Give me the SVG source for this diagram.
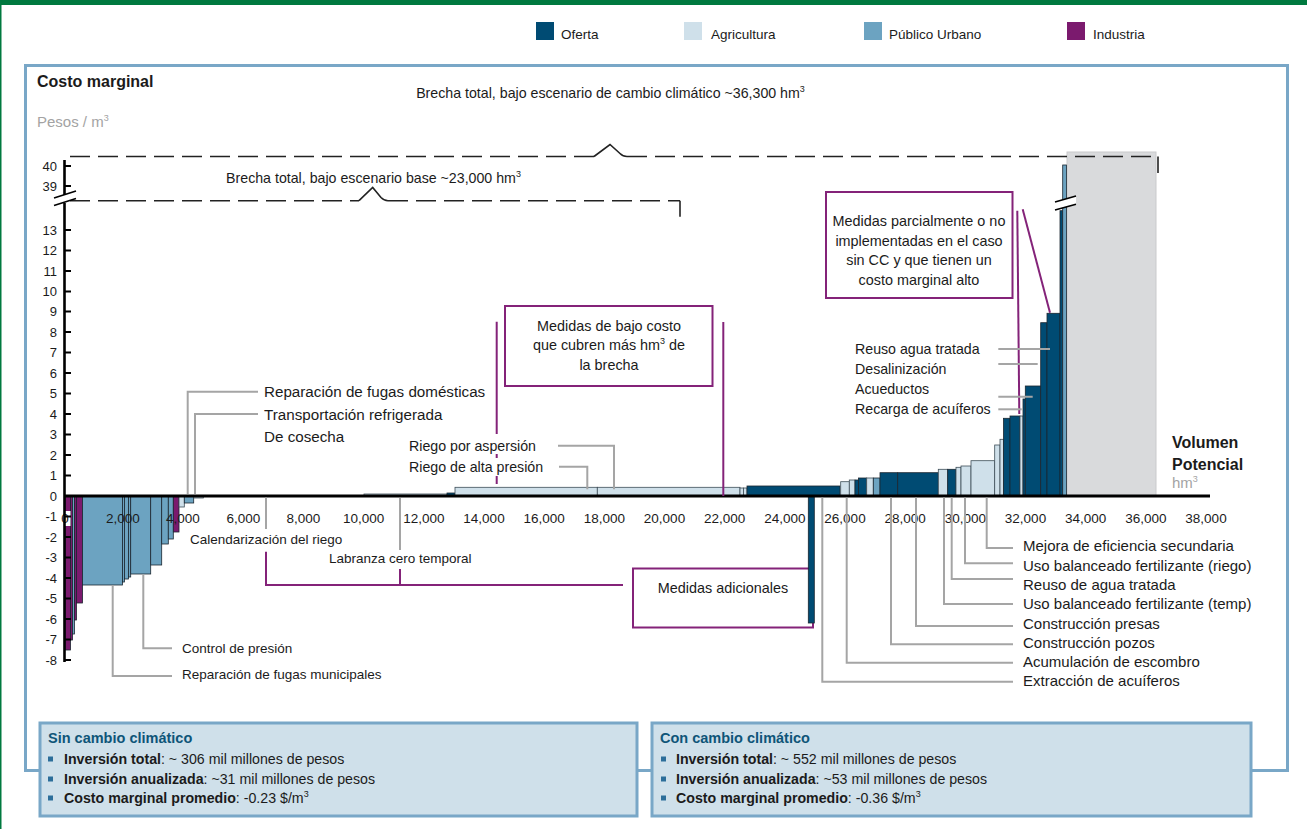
<svg xmlns="http://www.w3.org/2000/svg" width="1307" height="829" viewBox="0 0 1307 829">
<style>
text{font-family:"Liberation Sans",Arial,sans-serif;fill:#1b1b1b}
.lg{font-size:13.5px}
.ax{font-size:13px}
.axr{font-size:13px;text-anchor:end}
.axc{font-size:13.5px;text-anchor:middle}
.lb{font-size:15.2px}
.ls{font-size:13.5px}
.lm{font-size:14.2px}
.lr{font-size:15px}
.an{font-size:14.4px;text-anchor:middle}
.bt{font-size:14.5px;font-weight:bold;fill:#0E5578}
.bx{font-size:14.2px}
.b{font-weight:bold}
.of{fill:#004B73;stroke:#1B2630;stroke-width:.8}
.ag{fill:#CFE0EA;stroke:#3E4E58;stroke-width:.8}
.ur{fill:#6CA3C1;stroke:#1B2630;stroke-width:.8}
.in{fill:#7B1A6E;stroke:#1B2630;stroke-width:.8}
.ld{fill:none;stroke:#A5A5A5;stroke-width:2}
.pl{fill:none;stroke:#842379;stroke-width:2}
.dash{fill:none;stroke:#222;stroke-width:1.6;stroke-dasharray:20 8}
.sol{fill:none;stroke:#222;stroke-width:1.6}
.bul{fill:#2C6E9A}
.box{fill:#CFE0EA;stroke:#79A7C7;stroke-width:3}
</style>

<g id="page">
<rect x="0" y="0" width="1307" height="5" fill="#00793F"/>
<rect x="0" y="0" width="1.5" height="829" fill="#00793F"/>
<rect x="25.5" y="65.5" width="1262" height="705" fill="none" stroke="#79A7C7" stroke-width="3"/>
</g>

<g id="legend">
<g id="leg-oferta"><rect x="536" y="22" width="18" height="18" fill="#004B73"/><text class="lg" x="561" y="39">Oferta</text></g>
<g id="leg-agricultura"><rect x="684" y="22" width="18" height="18" fill="#CFE0EA"/><text class="lg" x="711" y="39">Agricultura</text></g>
<g id="leg-urbano"><rect x="864" y="22" width="18" height="18" fill="#6CA3C1"/><text class="lg" x="889" y="39">Público Urbano</text></g>
<g id="leg-industria"><rect x="1067" y="22" width="18" height="18" fill="#7B1A6E"/><text class="lg" x="1093" y="39">Industria</text></g>
</g>

<g id="titles">
<text x="37" y="87" style="font-size:16px;font-weight:bold">Costo marginal</text>
<text x="37" y="127" style="font-size:15px;fill:#A3A3A3">Pesos / m<tspan font-size="9" dy="-6" style="fill:#A3A3A3">3</tspan></text>
<text x="1172" y="448" style="font-size:16px;font-weight:bold">Volumen</text>
<text x="1172" y="469.5" style="font-size:16px;font-weight:bold">Potencial</text>
<text x="1172" y="488" style="font-size:15px;fill:#A3A3A3">hm<tspan font-size="9" dy="-6" style="fill:#A3A3A3">3</tspan></text>
</g>

<g id="y-labels">
<text class="axr" x="57" y="170.5">40</text>
<text class="axr" x="57" y="190.5">39</text>
<text class="axr" x="57" y="234.5">13</text>
<text class="axr" x="57" y="255">12</text>
<text class="axr" x="57" y="275.5">11</text>
<text class="axr" x="57" y="296">10</text>
<text class="axr" x="57" y="316">9</text>
<text class="axr" x="57" y="336.5">8</text>
<text class="axr" x="57" y="357">7</text>
<text class="axr" x="57" y="377.5">6</text>
<text class="axr" x="57" y="398">5</text>
<text class="axr" x="57" y="418.5">4</text>
<text class="axr" x="57" y="439">3</text>
<text class="axr" x="57" y="459.5">2</text>
<text class="axr" x="57" y="480">1</text>
<text class="axr" x="57" y="500.5">0</text>
<text class="axr" x="57" y="521">-1</text>
<text class="axr" x="57" y="541.5">-2</text>
<text class="axr" x="57" y="562">-3</text>
<text class="axr" x="57" y="582.5">-4</text>
<text class="axr" x="57" y="603">-5</text>
<text class="axr" x="57" y="623.5">-6</text>
<text class="axr" x="57" y="644">-7</text>
<text class="axr" x="57" y="664.5">-8</text>
</g>

<g id="gap-area">
<rect x="1067" y="152" width="89" height="344" fill="#D9DADC" stroke="#C9CACC" stroke-width="1"/>
</g>

<g id="brecha-cc">
<path class="dash" d="M70,156.5 H594"/>
<path class="sol" d="M594,156.5 L610,144.5 L620,153.5 Q623,156.5 627,156.5"/>
<path class="dash" d="M627,156.5 H1158"/>
<path class="sol" d="M1158,156.5 V173"/>
<text class="lm" x="610.5" y="98" text-anchor="middle">Brecha total, bajo escenario de cambio climático ~36,300 hm<tspan font-size="9" dy="-6">3</tspan></text>
</g>

<g id="brecha-base">
<path class="dash" d="M70,200.7 H359"/>
<path class="sol" d="M359,200.7 L372.7,187.5 L381,197.5 Q384,200.7 388,200.7"/>
<path class="dash" d="M388,200.7 H680"/>
<path class="sol" d="M680,200.7 V216.7"/>
<text class="lm" x="373.5" y="183" text-anchor="middle">Brecha total, bajo escenario base ~23,000 hm<tspan font-size="9" dy="-6">3</tspan></text>
</g>

<g id="box-adicionales">
<rect x="633" y="568.5" width="180" height="59" fill="none" stroke="#842379" stroke-width="2"/>
<text class="an" x="723" y="593">Medidas adicionales</text>
</g>

<g id="box-bajo-costo">
<rect x="505" y="306" width="207.5" height="80" fill="none" stroke="#842379" stroke-width="2"/>
<text class="an" x="609" y="330.5">Medidas de bajo costo</text>
<text class="an" x="609" y="350">que cubren más hm<tspan font-size="9" dy="-6">3</tspan><tspan dy="6"> de</tspan></text>
<text class="an" x="609" y="370">la brecha</text>
</g>

<g id="box-parcial">
<rect x="826" y="192" width="186.5" height="106" fill="none" stroke="#842379" stroke-width="2"/>
<text class="an" x="919" y="225.5">Medidas parcialmente o no</text>
<text class="an" x="919" y="245.5">implementadas en el caso</text>
<text class="an" x="919" y="265">sin CC y que tienen un</text>
<text class="an" x="919" y="285">costo marginal alto</text>
</g>

<g id="bars">
<rect class="in" x="65" y="496" width="5.5" height="154"/>
<rect class="in" x="70.5" y="496" width="2" height="144"/>
<rect class="ur" x="72.5" y="496" width="2" height="138"/>
<rect class="in" x="74.5" y="496" width="2" height="124"/>
<rect class="in" x="76.5" y="496" width="6" height="107"/>
<rect class="ur" x="82.5" y="496" width="40" height="89"/>
<rect class="ur" x="122.5" y="496" width="2" height="86"/>
<rect class="ur" x="124.5" y="496" width="4" height="83"/>
<rect class="ur" x="128.5" y="496" width="2.2" height="81"/>
<rect class="ur" x="130.7" y="496" width="20" height="78"/>
<rect class="ur" x="150.7" y="496" width="11" height="69"/>
<rect class="ur" x="161.7" y="496" width="6.6" height="48"/>
<rect class="ur" x="168.3" y="496" width="5" height="43"/>
<rect class="in" x="173.3" y="496" width="5.7" height="36"/>
<rect class="ag" x="179" y="496" width="5.3" height="11"/>
<rect class="ur" x="184.3" y="496" width="9.4" height="7"/>
<rect class="ag" x="193.7" y="496" width="9.6" height="2"/>
<rect class="ag" x="364" y="494" width="83" height="2"/>
<rect class="of" x="447" y="493" width="8" height="3"/>
<rect class="ag" x="455" y="487.3" width="142.3" height="8.7"/>
<rect class="ag" x="597.3" y="487.3" width="142.7" height="8.7"/>
<rect class="ag" x="740" y="488" width="3.5" height="8"/>
<rect class="ag" x="743.5" y="488" width="3.5" height="8"/>
<rect class="of" x="747" y="486" width="93" height="10"/>
<rect class="of" x="808.3" y="496" width="6" height="127"/>
<rect class="ag" x="840.7" y="481.7" width="8.6" height="14.3"/>
<rect class="ag" x="849.3" y="480" width="5.7" height="16"/>
<rect class="of" x="855" y="480" width="3.5" height="16"/>
<rect class="of" x="858.5" y="478" width="8.2" height="18"/>
<rect class="ag" x="866.7" y="478" width="6.6" height="18"/>
<rect class="ur" x="873.3" y="478" width="6.7" height="18"/>
<rect class="of" x="880" y="472.7" width="17.7" height="23.3"/>
<rect class="of" x="897.7" y="472.7" width="40.6" height="23.3"/>
<rect class="ag" x="938.3" y="469.3" width="9.4" height="26.7"/>
<rect class="of" x="947.7" y="469.3" width="8.3" height="26.7"/>
<rect class="ag" x="956" y="467.3" width="5" height="28.7"/>
<rect class="ag" x="961" y="466" width="10" height="30"/>
<rect class="ag" x="971" y="460.7" width="23.7" height="35.3"/>
<rect class="ag" x="994.7" y="445" width="5.3" height="51"/>
<rect class="ag" x="1000" y="439.3" width="3.5" height="56.7"/>
<rect class="of" x="1003.5" y="418.3" width="6.5" height="77.7"/>
<rect class="of" x="1010" y="416" width="10" height="80"/>
<rect class="ag" x="1020" y="416" width="3" height="80"/>
<rect class="of" x="1023" y="399" width="2.3" height="97"/>
<rect class="of" x="1025.3" y="386" width="15.4" height="110"/>
<rect class="of" x="1040.7" y="322.7" width="6.3" height="173.3"/>
<rect class="of" x="1047" y="313.3" width="13" height="182.7"/>
<rect class="of" x="1060" y="210.7" width="2.7" height="285.3"/>
<rect class="ur" x="1062.7" y="165" width="3.8" height="331"/>
</g>

<g id="x-labels">
<rect x="59.5" y="511" width="11" height="15" fill="#fff"/>
<text class="axc" x="65" y="522.5">0</text>
<text class="axc" x="122.9" y="522.5">2,000</text>
<text class="axc" x="183" y="522.5">4,000</text>
<text class="axc" x="243.3" y="522.5">6,000</text>
<text class="axc" x="303.5" y="522.5">8,000</text>
<text class="axc" x="363.7" y="522.5">10,000</text>
<text class="axc" x="423.8" y="522.5">12,000</text>
<text class="axc" x="484" y="522.5">14,000</text>
<text class="axc" x="544.2" y="522.5">16,000</text>
<text class="axc" x="604.3" y="522.5">18,000</text>
<text class="axc" x="664.5" y="522.5">20,000</text>
<text class="axc" x="724.7" y="522.5">22,000</text>
<text class="axc" x="784.8" y="522.5">24,000</text>
<text class="axc" x="845" y="522.5">26,000</text>
<text class="axc" x="905.2" y="522.5">28,000</text>
<text class="axc" x="965.4" y="522.5">30,000</text>
<text class="axc" x="1025.5" y="522.5">32,000</text>
<text class="axc" x="1085.7" y="522.5">34,000</text>
<text class="axc" x="1145.9" y="522.5">36,000</text>
<text class="axc" x="1206" y="522.5">38,000</text>
</g>

<g id="axes">
<path d="M64,496 H1210" stroke="#000" stroke-width="3" fill="none"/>
<path d="M64.5,160 V195 M64.5,203 V662" stroke="#000" stroke-width="2.6" fill="none"/>
<path d="M65,166 h6 M65,186 h6 M65,230 h6 M65,250.5 h6 M65,271 h6 M65,291.5 h6 M65,311.5 h6 M65,332 h6 M65,352.5 h6 M65,373 h6 M65,393.5 h6 M65,414 h6 M65,434.5 h6 M65,455 h6 M65,475.5 h6 M65,516.5 h6 M65,537 h6 M65,557.5 h6 M65,578 h6 M65,598.5 h6 M65,619 h6 M65,639.5 h6 M65,660 h6" stroke="#000" stroke-width="2" fill="none"/>
<path d="M54,198 L76,191 M54,205.5 L76,198.5" stroke="#000" stroke-width="1.6" fill="none"/>
<polygon points="1055,202 1076,196 1076,204.3 1055,210" fill="#fff"/>
<path d="M1055,202 L1076,196 M1055,210 L1076,204.3" stroke="#000" stroke-width="1.6" fill="none"/>
</g>

<g id="connectors">
<path class="pl" d="M496.7,321.7 V434 M496.7,454 V458 M496.7,476 V484"/>
<path class="pl" d="M723.3,322 V496"/>
<path class="pl" d="M266,551.7 V585 H623"/>
<path class="pl" d="M400,569 V585"/>
<path class="pl" d="M1017.3,210.7 L1019.3,414"/>
<path class="pl" d="M1022.7,209.3 L1050,312.7"/>
<path class="ld" d="M258,391.7 H187.7 V494"/>
<path class="ld" d="M258,414 H195 V494"/>
<path class="ld" d="M172,648.3 H143.3 V575"/>
<path class="ld" d="M172,676 H112.7 V585"/>
<path class="ld" d="M266,497.5 V529"/>
<path class="ld" d="M400,498 V550"/>
<path class="ld" d="M558,445.7 H614 V489.3"/>
<path class="ld" d="M559,466.7 H587.3 V489.3"/>
<path class="ld" d="M998.3,349 H1050"/>
<path class="ld" d="M998.3,364 H1037.7"/>
<path class="ld" d="M998.3,396.7 H1032.7"/>
<path class="ld" d="M998.3,409.3 H1021.7"/>
<path class="ld" d="M1013,548 H986.7 V497.5"/>
<path class="ld" d="M1013,563.3 H965 V497.5"/>
<path class="ld" d="M1013,579 H951.7 V497.5"/>
<path class="ld" d="M1013,604 H944 V497.5"/>
<path class="ld" d="M1013,626 H916 V497.5"/>
<path class="ld" d="M1013,644.3 H891 V497.5"/>
<path class="ld" d="M1013,662.7 H846.7 V497.5"/>
<path class="ld" d="M1013,681.7 H822.3 V497.5"/>
</g>

<g id="labels">
<text class="lb" x="264" y="397">Reparación de fugas domésticas</text>
<text class="lb" x="264" y="419.5">Transportación refrigerada</text>
<text class="lb" x="264" y="442">De cosecha</text>
<text class="ls" x="190" y="544">Calendarización del riego</text>
<text class="ls" x="329" y="562.5">Labranza cero temporal</text>
<text class="ls" x="182" y="652.5">Control de presión</text>
<text class="ls" x="182" y="679">Reparación de fugas municipales</text>
<text class="lm" x="409" y="450.5">Riego por aspersión</text>
<text class="lm" x="409" y="472">Riego de alta presión</text>
<text class="lm" x="855" y="354">Reuso agua tratada</text>
<text class="lm" x="855" y="374">Desalinización</text>
<text class="lm" x="855" y="394">Acueductos</text>
<text class="lm" x="855" y="414">Recarga de acuíferos</text>
<text class="lr" x="1023" y="551">Mejora de eficiencia secundaria</text>
<text class="lr" x="1023" y="571">Uso balanceado fertilizante (riego)</text>
<text class="lr" x="1023" y="590">Reuso de agua tratada</text>
<text class="lr" x="1023" y="609">Uso balanceado fertilizante (temp)</text>
<text class="lr" x="1023" y="628.5">Construcción presas</text>
<text class="lr" x="1023" y="647.5">Construcción pozos</text>
<text class="lr" x="1023" y="667">Acumulación de escombro</text>
<text class="lr" x="1023" y="686">Extracción de acuíferos</text>
</g>

<g id="box-sin-cc">
<rect class="box" x="40" y="723" width="597" height="93"/>
<text class="bt" x="48" y="743">Sin cambio climático</text>
<rect class="bul" x="48" y="756.5" width="5" height="5"/>
<rect class="bul" x="48" y="776.5" width="5" height="5"/>
<rect class="bul" x="48" y="795.5" width="5" height="5"/>
<text class="bx" x="64" y="764"><tspan class="b">Inversión total</tspan>: ~ 306 mil millones de pesos</text>
<text class="bx" x="64" y="784"><tspan class="b">Inversión anualizada</tspan>: ~31 mil millones de pesos</text>
<text class="bx" x="64" y="803"><tspan class="b">Costo marginal promedio</tspan>: -0.23 $/m<tspan font-size="9" dy="-6">3</tspan></text>
</g>

<g id="box-con-cc">
<rect class="box" x="652" y="723" width="599" height="93"/>
<text class="bt" x="660" y="743">Con cambio climático</text>
<rect class="bul" x="661" y="756.5" width="5" height="5"/>
<rect class="bul" x="661" y="776.5" width="5" height="5"/>
<rect class="bul" x="661" y="795.5" width="5" height="5"/>
<text class="bx" x="676" y="764"><tspan class="b">Inversión total</tspan>: ~ 552 mil millones de pesos</text>
<text class="bx" x="676" y="784"><tspan class="b">Inversión anualizada</tspan>: ~53 mil millones de pesos</text>
<text class="bx" x="676" y="803"><tspan class="b">Costo marginal promedio</tspan>: -0.36 $/m<tspan font-size="9" dy="-6">3</tspan></text>
</g>
</svg>
